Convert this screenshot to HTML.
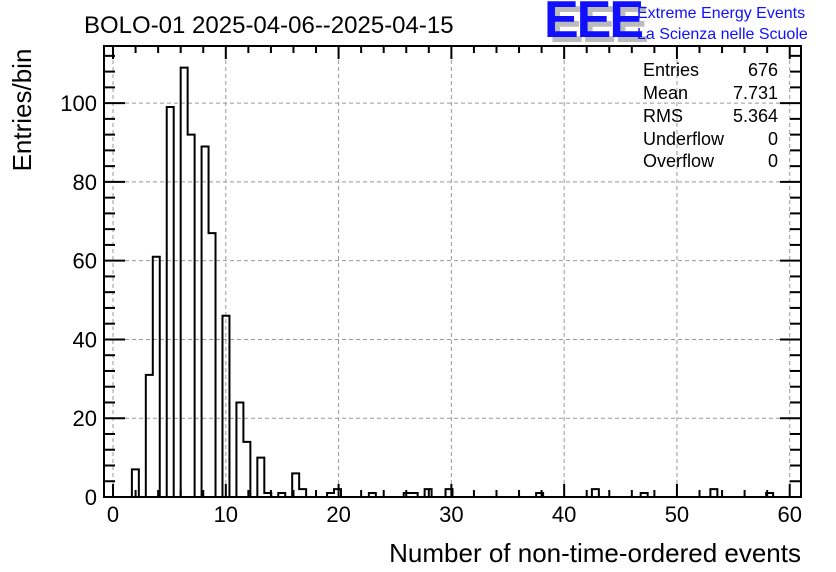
<!DOCTYPE html>
<html><head><meta charset="utf-8"><style>
html,body{margin:0;padding:0;background:#fff;}
svg{display:block;font-family:"Liberation Sans",Arial,sans-serif;}
</style></head><body>
<svg id="chart" width="836" height="572" viewBox="0 0 836 572" xmlns="http://www.w3.org/2000/svg">
<rect x="0" y="0" width="836" height="572" fill="#fff"/>
<text x="84" y="33" font-size="24" fill="#000">BOLO-01 2025-04-06--2025-04-15</text>
<g>
<text x="549" y="42" font-size="52" fill="#bbb" font-weight="bold" letter-spacing="-2">EEE</text>
<text x="544" y="37" font-size="52" fill="#1010ff" font-weight="bold" letter-spacing="-2">EEE</text>
<text x="637" y="18" font-size="16" fill="#1010ff">Extreme Energy Events</text>
<text x="637" y="39" font-size="16" fill="#1010ff">La Scienza nelle Scuole</text>
</g>
<g id="grid"></g>
<g id="bars"></g>
<g id="axes"></g>
<g font-size="18" fill="#000">
<text x="643" y="76">Entries</text><text x="778" y="76" text-anchor="end">676</text>
<text x="643" y="99">Mean</text><text x="778" y="99" text-anchor="end">7.731</text>
<text x="643" y="122">RMS</text><text x="778" y="122" text-anchor="end">5.364</text>
<text x="643" y="145">Underflow</text><text x="778" y="145" text-anchor="end">0</text>
<text x="643" y="167">Overflow</text><text x="778" y="167" text-anchor="end">0</text>
</g>
<text transform="translate(31,110) rotate(-90)" text-anchor="middle" font-size="26">Entries/bin</text>
<text x="801" y="562" text-anchor="end" font-size="26">Number of non-time-ordered events</text>
</svg>
<script>
const values = [0,1,2,3,4,5,6,7,8,9,10,11,12,13,14,15,16,17,19,20,23,26,27,28,30,38,43,47,53,58];
const counts = [0,0,7,31,61,99,109,92,89,67,46,24,14,10,1,1,6,2,1,2,1,1,1,2,2,1,2,1,2,1];
const xTicks = [0,10,20,30,40,50,60];
const yTicks = [0,20,40,60,80,100];

const L=104,R=801,T=46,B=497;
const xmin=-0.8,xmax=61,ymin=0,ymax=114.5,nb=100;
const bw=(xmax-xmin)/nb;
const X=v=>L+(v-xmin)/(xmax-xmin)*(R-L);
const Y=v=>B-(v-ymin)/(ymax-ymin)*(B-T);
const NS="http://www.w3.org/2000/svg";
function mk(tag,attrs,parent){const e=document.createElementNS(NS,tag);for(const k in attrs)e.setAttribute(k,attrs[k]);parent.appendChild(e);return e;}
const grid=document.getElementById('grid'),bars=document.getElementById('bars'),axes=document.getElementById('axes');

xTicks.forEach(t=>{const l=mk('line',{x1:X(t),x2:X(t),y1:T,y2:B,stroke:'#999','stroke-dasharray':'4,3','stroke-width':1},grid);

});
yTicks.forEach(t=>{const l=mk('line',{x1:L,x2:R,y1:Y(t),y2:Y(t),stroke:'#999','stroke-dasharray':'4,3','stroke-width':1},grid);

});

// histogram bins
const bins=new Array(nb).fill(0);
values.forEach((v,i)=>{const b=Math.floor((v-xmin)/bw);if(b>=0&&b<nb)bins[b]+=counts[i];});
let d='M'+L+','+B;
for(let b=0;b<nb;b++){const x0=X(xmin+b*bw),x1=X(xmin+(b+1)*bw);d+=' L'+x0+','+Y(bins[b])+' L'+x1+','+Y(bins[b]);}
d+=' L'+R+','+B;
const p=mk('path',{d:d,fill:'none',stroke:'#000','stroke-width':2},bars);



// frame
const f=mk('rect',{x:L,y:T,width:R-L,height:B-T,fill:'none',stroke:'#000','stroke-width':2},axes);


// x ticks
for(let v=0;v<=60;v+=2){const maj=v%10===0,len=maj?13:7;
mk('line',{x1:X(v),x2:X(v),y1:B,y2:B-len,stroke:'#000','stroke-width':2},axes);
mk('line',{x1:X(v),x2:X(v),y1:T,y2:T+len,stroke:'#000','stroke-width':2},axes);}
// y ticks
for(let v=0;v<=112;v+=4){const maj=v%20===0,len=maj?21:11;
mk('line',{x1:L,x2:L+len,y1:Y(v),y2:Y(v),stroke:'#000','stroke-width':2},axes);
mk('line',{x1:R,x2:R-len,y1:Y(v),y2:Y(v),stroke:'#000','stroke-width':2},axes);}
xTicks.forEach(t=>{const tx=mk('text',{x:X(t),y:522,'text-anchor':'middle','font-size':22},axes);tx.textContent=t;

});
yTicks.forEach(t=>{const tx=mk('text',{x:97,y:Y(t)+8,'text-anchor':'end','font-size':22},axes);tx.textContent=t;

});
</script>
</body></html>
